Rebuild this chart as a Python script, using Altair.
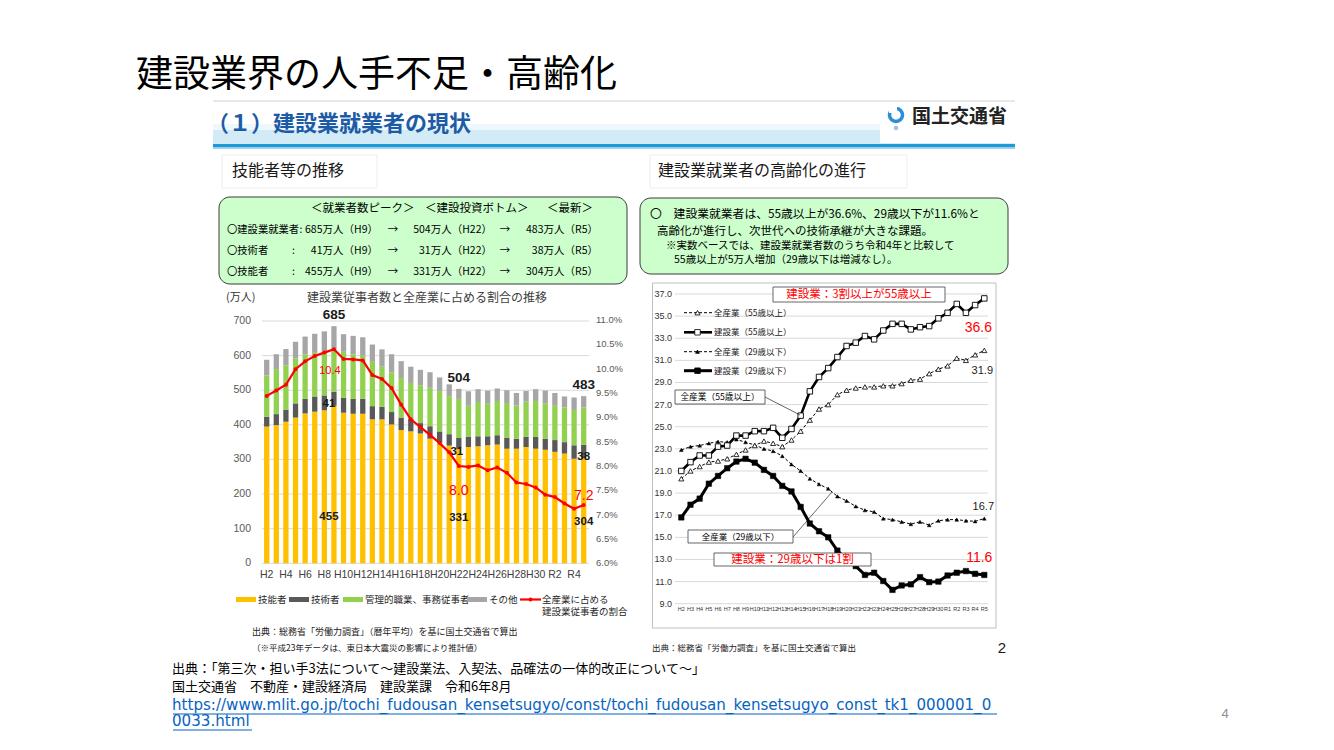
import altair as alt
import pandas as pd

# ---------------------------------------------------------------- data
years = ["H2", "H3", "H4", "H5", "H6", "H7", "H8", "H9", "H10", "H11", "H12",
         "H13", "H14", "H15", "H16", "H17", "H18", "H19", "H20", "H21", "H22",
         "H23", "H24", "H25", "H26", "H27", "H28", "H29", "H30", "R1", "R2",
         "R3", "R4", "R5"]

# 建設業従事者数の内訳（万人）
skilled = [395, 399, 409, 421, 433, 438, 442, 455, 435, 432, 432, 416, 416, 401,
           385, 381, 375, 360, 348, 340, 331, 336, 338, 341, 343, 331, 331, 336,
           331, 328, 322, 317, 302, 304]
engineers = [28, 32, 35, 41, 42, 44, 43, 41, 43, 43, 43, 38, 36, 36, 36, 36, 30,
             36, 33, 33, 31, 29, 29, 26, 27, 32, 29, 29, 34, 32, 34, 33, 39, 38]
clerical = [120, 130, 128, 130, 128, 126, 127, 121, 133, 128, 125, 128, 116, 115,
            114, 104, 109, 111, 117, 110, 113, 90, 99, 94, 99, 100, 96, 102, 104,
            101, 99, 100, 102, 108]
others = [45, 43, 47, 48, 52, 55, 58, 68, 51, 54, 53, 50, 50, 52, 49, 47, 45, 45,
          39, 34, 29, 42, 37, 38, 36, 37, 36, 31, 34, 38, 37, 32, 36, 33]

# 全産業に占める建設業従事者の割合（%）
share = [9.44, 9.55, 9.67, 9.99, 10.15, 10.26, 10.33, 10.4, 10.2, 10.19, 10.17,
         9.87, 9.79, 9.6, 9.26, 8.96, 8.8, 8.64, 8.47, 8.28, 8.0, 7.98, 8.01,
         7.91, 7.97, 7.86, 7.66, 7.63, 7.56, 7.41, 7.36, 7.23, 7.12, 7.2]

# 年齢構成比（%）
all55 = [20.3, 21.0, 21.4, 21.8, 21.9, 22.1, 22.5, 22.9, 23.3, 23.7, 23.5, 23.2,
         23.8, 24.6, 25.6, 26.6, 27.0, 27.9, 28.3, 28.5, 28.6, 28.6, 28.7, 28.7,
         28.9, 29.2, 29.3, 29.8, 30.2, 30.5, 31.2, 31.0, 31.5, 31.9]
con55 = [21.0, 21.8, 22.4, 22.4, 23.2, 23.3, 24.2, 24.2, 24.6, 24.6, 24.9, 24.0,
         24.8, 26.0, 28.2, 29.5, 30.3, 31.3, 32.3, 32.6, 33.2, 32.9, 33.7, 34.3,
         34.3, 33.8, 34.0, 34.1, 34.8, 35.3, 36.1, 35.3, 36.0, 36.6]
all29 = [22.9, 23.2, 23.3, 23.5, 23.65, 23.6, 23.85, 23.6, 23.35, 23.0, 22.8,
         22.35, 21.6, 21.0, 20.3, 19.8, 19.4, 18.7, 18.3, 17.8, 17.45, 17.3, 16.7,
         16.6, 16.4, 16.2, 16.4, 16.1, 16.5, 16.6, 16.6, 16.5, 16.45, 16.7]
con29 = [16.8, 17.95, 18.5, 19.85, 20.55, 21.25, 21.85, 22.1, 21.75, 21.1, 20.55,
         19.65, 19.15, 17.75, 16.25, 15.55, 15.0, 13.8, 13.0, 12.4, 11.6, 11.8,
         11.05, 10.25, 10.65, 10.75, 11.4, 10.95, 11.0, 11.55, 11.8, 11.95, 11.7,
         11.6]

count_ticks = [0, 100, 200, 300, 400, 500, 600, 700]
pct_ticks = [6.0, 6.5, 7.0, 7.5, 8.0, 8.5, 9.0, 9.5, 10.0, 10.5, 11.0]
age_ticks = [9.0, 11.0, 13.0, 15.0, 17.0, 19.0, 21.0, 23.0, 25.0, 27.0, 29.0,
             31.0, 33.0, 35.0, 37.0]

cats = ["技能者", "技術者", "管理的職業、事務従事者", "その他"]
cat_colors = ["#FFC000", "#595959", "#92D050", "#A6A6A6"]

# ---------------------------------------------------------------- helpers
JP = "Noto Sans CJK JP"
NUM = "Liberation Sans"
ONE = pd.DataFrame({"k": [0]})


def text(s, x, y, size, color="#000000", weight="normal", align="left",
         font=JP, baseline="middle"):
    return alt.Chart(ONE).mark_text(
        text=s, font=font, fontSize=size, fontWeight=weight, color=color,
        align=align, baseline=baseline
    ).encode(x=alt.value(x), y=alt.value(y))


def rect(x1, y1, x2, y2, **style):
    return alt.Chart(ONE).mark_rect(**style).encode(
        x=alt.value(x1), x2=alt.value(x2), y=alt.value(y1), y2=alt.value(y2))


def seg(x1, y1, x2, y2, color="#000000", width=1.0, dash=None):
    kw = dict(color=color, strokeWidth=width)
    if dash:
        kw["strokeDash"] = dash
    return alt.Chart(ONE).mark_rule(**kw).encode(
        x=alt.value(x1), x2=alt.value(x2), y=alt.value(y1), y2=alt.value(y2))


def dot(x, y, shape, size, fill, stroke="#000000", sw=1.0):
    return alt.Chart(ONE).mark_point(
        shape=shape, size=size, filled=True, fill=fill, stroke=stroke,
        strokeWidth=sw, opacity=1
    ).encode(x=alt.value(x), y=alt.value(y))


def ring(x, y, size, color, sw):
    return alt.Chart(ONE).mark_point(
        shape="circle", size=size, filled=False, stroke=color, strokeWidth=sw,
        opacity=1
    ).encode(x=alt.value(x), y=alt.value(y))


# ---------------------------------------------------------------- slide decoration
background = [
    rect(213, 101, 1015, 655, fill="#FFFFFF"),
    seg(213, 101, 1015, 101, color="#D0D0D0", width=1),
    rect(213, 124, 1015, 131, fill="#EEF7FC"),
    rect(213, 130, 1015, 144, fill="#D3EBF7"),
    rect(880, 103, 1015, 143, fill="#FFFFFF"),
    rect(213, 144, 1015, 147.5, fill="#1E9AD6"),
    rect(213, 147.5, 1015, 149, fill="#9FD3EE"),
    rect(222, 155, 377, 188, fill="#FFFFFF", stroke="#EDEDED", strokeWidth=1),
    rect(650, 155, 907, 188, fill="#FFFFFF", stroke="#EDEDED", strokeWidth=1),
    rect(219, 197, 627, 284, fill="#CCFFCC", stroke="#3A3A3A", strokeWidth=1,
         cornerRadius=11),
    rect(640, 198, 1008, 274, fill="#CCFFCC", stroke="#3A3A3A", strokeWidth=1,
         cornerRadius=11),
    rect(652.5, 283, 996, 628, fill="#FFFFFF", stroke="#BFBFBF", strokeWidth=1),
]

titles = [
    text("建設業界の人手不足・高齢化", 136, 76, 37),
    text("（１）建設業就業者の現状", 207, 124, 22, color="#1D5BA6", weight="bold"),
    text("国土交通省", 912, 117, 19, color="#222222", weight="bold"),
    ring(896, 115, 170, "#2B8FD8", 3.5),
    rect(889, 106, 897, 113, fill="#FFFFFF"),
    dot(896, 128, "circle", 22, "#9BC4E8", stroke="#9BC4E8", sw=0),
    text("技能者等の推移", 232, 171, 16, color="#1A1A1A"),
    text("建設業就業者の高齢化の進行", 658, 171, 16, color="#1A1A1A"),
]

# summary box (left)
FS_H = 11.5
FS_L = 10.3
FS_V = 10.5
box_l = [
    text("＜就業者数ピーク＞", 311, 209, FS_H),
    text("＜建設投資ボトム＞", 425, 209, FS_H),
    text("＜最新＞", 547, 209, FS_H),
]
rows_l = [
    ("〇建設業就業者", 230, ["685万人（H9）", "504万人（H22）", "483万人（R5）"]),
    ("〇技術者", 251, ["41万人（H9）", "31万人（H22）", "38万人（R5）"]),
    ("〇技能者", 272, ["455万人（H9）", "331万人（H22）", "304万人（R5）"]),
]
for i, (lab, yy, vals) in enumerate(rows_l):
    box_l.append(text(lab, 227, yy, FS_L))
    box_l.append(text(":", 299.5 if i == 0 else 292, yy, FS_L))
    box_l.append(text(vals[0], 378, yy, FS_V, align="right"))
    box_l.append(text("→", 393, yy, FS_V, align="center"))
    box_l.append(text(vals[1], 492, yy, FS_V, align="right"))
    box_l.append(text("→", 505, yy, FS_V, align="center"))
    box_l.append(text(vals[2], 598, yy, FS_V, align="right"))

# summary box (right)
box_r = [
    text("〇　建設業就業者は、55歳以上が36.6%、29歳以下が11.6%と", 650, 214, 11.8),
    text("高齢化が進行し、次世代への技術承継が大きな課題。", 657, 232, 11.5),
    text("※実数ベースでは、建設業就業者数のうち令和4年と比較して", 666, 246, 10.5),
    text("55歳以上が5万人増加（29歳以下は増減なし）。", 674, 260, 10.5),
]

# ---------------------------------------------------------------- left chart
xl = alt.Scale(domain=years, range=[261.9, 588.5], paddingInner=0.45,
               paddingOuter=0.225)
yl = alt.Scale(domain=[0, 700], range=[563.3, 321.0], nice=False)
yp = alt.Scale(domain=[6.0, 11.0], range=[563.3, 320.0], nice=False, zero=False)

rows = []
for i, yr in enumerate(years):
    for k, arr in enumerate([skilled, engineers, clerical, others]):
        rows.append({"year": yr, "cat": cats[k], "n": arr[i], "ord": k})
bars_df = pd.DataFrame(rows)
totals = [a + b + c + d for a, b, c, d in zip(skilled, engineers, clerical, others)]

count_df = pd.DataFrame({"v": count_ticks})
grid_l = alt.Chart(count_df).mark_rule(color="#D9D9D9", strokeWidth=1).encode(
    y=alt.Y("v:Q", scale=yl, axis=None), x=alt.value(262), x2=alt.value(589))
ticks_l = alt.Chart(count_df).mark_text(
    font=NUM, fontSize=10.5, color="#595959", align="right", baseline="middle"
).encode(y=alt.Y("v:Q", scale=yl, axis=None), x=alt.value(251), text="v:Q")

bars = alt.Chart(bars_df).mark_bar().encode(
    x=alt.X("year:N", scale=xl, axis=None),
    y=alt.Y("n:Q", stack="zero", scale=yl, axis=None),
    color=alt.Color("cat:N", scale=alt.Scale(domain=cats, range=cat_colors),
                    legend=None),
    order=alt.Order("ord:Q"),
)

xlab_df = pd.DataFrame({"year": years[::2]})
xlab_l = alt.Chart(xlab_df).mark_text(
    font=NUM, fontSize=10.5, color="#404040", baseline="middle"
).encode(x=alt.X("year:N", scale=xl, axis=None), y=alt.value(575), text="year:N")

hl = ["H9", "H22", "R5"]
tot_df = pd.DataFrame({"year": hl, "v": [totals[years.index(h)] for h in hl]})
tot_lbl = alt.Chart(tot_df).mark_text(
    font=NUM, fontSize=13.5, fontWeight="bold", color="#1A1A1A", dy=-11,
    baseline="middle"
).encode(x=alt.X("year:N", scale=xl, axis=None),
         y=alt.Y("v:Q", scale=yl, axis=None), text="v:Q")


def year_label(year, val, py, scale, size, color, weight="bold", dx=0, fmt="d",
               font=NUM):
    df = pd.DataFrame({"year": [year], "v": [val]})
    return alt.Chart(df).mark_text(
        font=font, fontSize=size, fontWeight=weight, color=color, dx=dx,
        baseline="middle"
    ).encode(x=alt.X("year:N", scale=scale, axis=None), y=alt.value(py),
             text=alt.Text("v:Q", format=fmt))


i9, i22, i5 = years.index("H9"), years.index("H22"), years.index("R5")
seg_lbls = [
    year_label("H9", engineers[i9], 404, xl, 11.5, "#1A1A1A", dx=-5),
    year_label("H22", engineers[i22], 452, xl, 11.5, "#1A1A1A", dx=-2),
    year_label("R5", engineers[i5], 457, xl, 11.5, "#1A1A1A"),
    year_label("H9", skilled[i9], 517, xl, 11.5, "#1A1A1A", dx=-5),
    year_label("H22", skilled[i22], 518, xl, 11.5, "#1A1A1A"),
    year_label("R5", skilled[i5], 522, xl, 11.5, "#1A1A1A"),
]

left_count = alt.layer(grid_l, ticks_l, bars, xlab_l, tot_lbl, *seg_lbls)

share_df = pd.DataFrame({"year": years, "v": share})
share_base = alt.Chart(share_df).encode(
    x=alt.X("year:N", scale=xl, axis=None), y=alt.Y("v:Q", scale=yp, axis=None))
share_line = share_base.mark_line(color="#FF0000", strokeWidth=2.2)
share_pts = share_base.mark_point(shape="circle", filled=True, color="#FF0000",
                                  size=16, opacity=1)
pct_df = pd.DataFrame({"v": pct_ticks, "lab": [f"{v:.1f}%" for v in pct_ticks]})
ticks_p = alt.Chart(pct_df).mark_text(
    font=NUM, fontSize=9.5, color="#595959", align="left", baseline="middle"
).encode(y=alt.Y("v:Q", scale=yp, axis=None), x=alt.value(596), text="lab:N")
red_lbls = [
    year_label("H9", share[i9], 371, xl, 11, "#FF0000", weight="normal", dx=-4,
               fmt=".1f"),
    year_label("H22", share[i22], 491, xl, 14, "#FF0000", weight="normal",
               fmt=".1f"),
    year_label("R5", share[i5], 496, xl, 14, "#FF0000", weight="normal",
               fmt=".1f"),
]
left_pct = alt.layer(share_line, share_pts, ticks_p, *red_lbls)

left_text = [
    text("(万人)", 226, 298, 11, color="#333333"),
    text("建設業従事者数と全産業に占める割合の推移", 427, 298, 12,
         color="#404040", align="center"),
]
legend_l = []
sw_x = [(236, 256, "技能者"), (289, 309, "技術者"),
        (343, 363, "管理的職業、事務従事者"), (467, 487, "その他")]
for (a, b, lab), col in zip(sw_x, cat_colors):
    legend_l.append(rect(a, 597, b, 602, fill=col))
    legend_l.append(text(lab, b + 2, 600, 9.5, color="#262626"))
legend_l += [
    seg(520, 599.5, 541, 599.5, color="#FF0000", width=2.2),
    dot(530.5, 599.5, "circle", 16, "#FF0000", stroke="#FF0000", sw=0),
    text("全産業に占める", 542, 600, 9.5, color="#262626"),
    text("建設業従事者の割合", 542, 612, 9.5, color="#262626"),
    text("出典：総務省「労働力調査」（暦年平均）を基に国土交通省で算出", 252, 632,
         9, color="#1A1A1A"),
    text("（※平成23年データは、東日本大震災の影響により推計値）", 252, 648,
         8.5, color="#1A1A1A"),
]

# ---------------------------------------------------------------- right chart
xr = alt.Scale(type="point", domain=years, range=[681.3, 984.3], padding=0)
yr = alt.Scale(domain=[9, 37], range=[603.7, 294.0], nice=False, zero=False)

age_df = pd.DataFrame({"v": age_ticks, "lab": [f"{v:.1f}" for v in age_ticks]})
grid_r = alt.Chart(age_df).mark_rule(color="#D9D9D9", strokeWidth=1).encode(
    y=alt.Y("v:Q", scale=yr, axis=None), x=alt.value(675), x2=alt.value(988))
ticks_r = alt.Chart(age_df).mark_text(
    font=NUM, fontSize=9, color="#333333", align="right", baseline="middle"
).encode(y=alt.Y("v:Q", scale=yr, axis=None), x=alt.value(672), text="lab:N")
xlab_r = alt.Chart(pd.DataFrame({"year": years})).mark_text(
    font=NUM, fontSize=5.5, color="#333333", baseline="middle"
).encode(x=alt.X("year:N", scale=xr, axis=None), y=alt.value(609), text="year:N")


def series(vals, width, dash, shape, fill, size, sw):
    df = pd.DataFrame({"year": years, "v": vals})
    base = alt.Chart(df).encode(x=alt.X("year:N", scale=xr, axis=None),
                                y=alt.Y("v:Q", scale=yr, axis=None))
    kw = dict(color="#000000", strokeWidth=width)
    if dash:
        kw["strokeDash"] = dash
    return [base.mark_line(**kw),
            base.mark_point(shape=shape, filled=True, fill=fill, stroke="#000000",
                            strokeWidth=sw, size=size, opacity=1)]


right = alt.layer(
    grid_r, ticks_r, xlab_r,
    *series(all29, 1.0, [3, 2], "triangle-up", "#000000", 14, 0.5),
    *series(all55, 1.0, [3, 2], "triangle-up", "#FFFFFF", 26, 0.8),
    *series(con29, 3.0, None, "square", "#000000", 30, 0.5),
    *series(con55, 2.6, None, "square", "#FFFFFF", 30, 0.9),
)

legend_r = []
leg_rows = [
    (312.7, "全産業（55歳以上）", 1.0, [3, 2], "triangle-up", "#FFFFFF", 26),
    (332.3, "建設業（55歳以上）", 2.6, None, "square", "#FFFFFF", 30),
    (351.7, "全産業（29歳以下）", 1.0, [3, 2], "triangle-up", "#000000", 14),
    (370.7, "建設業（29歳以下）", 3.0, None, "square", "#000000", 30),
]
for yy, lab, w, dash, shape, fill, size in leg_rows:
    legend_r.append(seg(684, yy, 712, yy, width=w, dash=dash))
    legend_r.append(dot(697.5, yy, shape, size, fill, sw=0.8))
    legend_r.append(text(lab, 714, yy, 8.5, color="#1A1A1A"))

notes_r = [
    seg(765, 397, 800, 415, width=0.6),
    seg(793, 537, 832, 492, width=0.6),
    rect(773, 287, 945, 302, fill="#FFFFFF", stroke="#404040", strokeWidth=0.8),
    text("建設業：3割以上が55歳以上", 859, 294.5, 11.5, color="#FF0000",
         align="center"),
    rect(675, 390, 765, 404, fill="#FFFFFF", stroke="#404040", strokeWidth=0.8),
    text("全産業（55歳以上）", 720, 397, 8.7, align="center"),
    rect(688, 530, 793, 543, fill="#FFFFFF", stroke="#404040", strokeWidth=0.8),
    text("全産業（29歳以下）", 740.5, 536.5, 8.5, align="center"),
    rect(714, 553, 871, 566, fill="#FFFFFF", stroke="#404040", strokeWidth=0.8),
    text("建設業：29歳以下は1割", 792.5, 559.5, 11.5, color="#FF0000",
         align="center"),
    text("出典：総務省「労働力調査」を基に国土交通省で算出", 652, 648, 8.5,
         color="#1A1A1A"),
    text("2", 1002, 648, 15, color="#1A1A1A", align="center", font=NUM),
]
end_lbls = [
    year_label("R5", con55[-1], 328, xr, 14, "#FF0000", weight="normal", dx=-6,
               fmt=".1f"),
    year_label("R5", all55[-1], 371, xr, 11, "#1A1A1A", weight="normal", dx=-2,
               fmt=".1f"),
    year_label("R5", all29[-1], 507, xr, 11, "#1A1A1A", weight="normal", dx=-1,
               fmt=".1f"),
    year_label("R5", con29[-1], 558, xr, 14, "#FF0000", weight="normal", dx=-5,
               fmt=".1f"),
]

# ---------------------------------------------------------------- citation
url1 = "https://www.mlit.go.jp/tochi_fudousan_kensetsugyo/const/tochi_fudousan_kensetsugyo_const_tk1_000001_0"
url2 = "0033.html"
citation = [
    text("出典：「第三次・担い手3法について～建設業法、入契法、品確法の一体的改正について～」",
         172, 669, 13),
    text("国土交通省　不動産・建設経済局　建設業課　令和6年8月", 172, 687, 13),
    text(url1, 172, 705, 15.1, color="#0563C1", font="DejaVu Sans"),
    seg(173, 714, 997, 714, color="#0563C1", width=1),
    text(url2, 172, 721, 15.1, color="#0563C1", font="DejaVu Sans"),
    seg(173, 730, 252, 730, color="#0563C1", width=1),
    text("4", 1225, 714, 13, color="#8C8C8C", align="center", font=NUM),
]

chart = alt.layer(
    *background, *titles, *box_l, *box_r,
    left_count, left_pct, *left_text, *legend_l,
    right, *legend_r, *notes_r, *end_lbls,
    *citation,
).resolve_scale(
    x="independent", y="independent", color="independent"
).properties(
    width=1334, height=750, padding=0,
    autosize=alt.AutoSizeParams(type="none"),
    background="#FFFFFF",
).configure_view(stroke=None)

chart.save("out.html", embed_options={"renderer": "svg", "actions": False})
